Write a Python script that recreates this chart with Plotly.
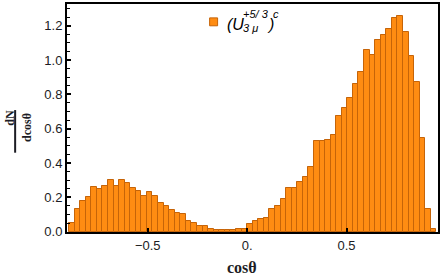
import numpy as np
import plotly.graph_objects as go

# histogram bins (cos theta), width 0.028 starting at -0.896
BIN_START = -0.896
BIN_WIDTH = 0.028
COUNTS = [
    0.053, 0.134, 0.178, 0.200, 0.258, 0.248, 0.267, 0.300, 0.267, 0.303,
    0.284, 0.256, 0.236, 0.207, 0.231, 0.209, 0.168, 0.150, 0.126, 0.110,
    0.105, 0.064, 0.051, 0.034, 0.034, 0.018, 0.007, 0.009, 0.008, 0.012,
    0.017, 0.017, 0.044, 0.063, 0.073, 0.077, 0.134, 0.152, 0.190, 0.254,
    0.255, 0.288, 0.320, 0.378, 0.530, 0.530, 0.536, 0.561, 0.674, 0.720,
    0.780, 0.863, 0.930, 1.056, 1.028, 1.116, 1.147, 1.183, 1.245, 1.256,
    1.166, 1.026, 0.872, 0.547, 0.133, 0.015,
]
X_TICKS = [-0.5, 0.0, 0.5]
X_TICKTEXT = ["\u22120.5", "0.", "0.5"]
Y_TICKS = [0.0, 0.2, 0.4, 0.6, 0.8, 1.0, 1.2]
Y_TICKTEXT = ["0.0", "0.2", "0.4", "0.6", "0.8", "1.0", "1.2"]

ORANGE = "#ff8c12"
ORANGE_EDGE = "#c66408"
SHADOW = "#c4c4c4"
TEXT = "#1c1c24"
SANS = "Liberation Sans, Arial, sans-serif"
SERIF = "Liberation Serif, Times New Roman, serif"

W, H = 442, 277
L, R, T, B = 67, 439, 2, 232

centers = BIN_START + BIN_WIDTH * (np.arange(len(COUNTS)) + 0.5)
counts = np.array(COUNTS)


def px(x):
    return (x - L) / (R - L)


def py(y):
    return (B - y) / (B - T)


fig = go.Figure()
# light grey offset edge behind the bars (Mathematica-style bar edge)
fig.add_trace(go.Bar(
    x=centers, y=counts + 0.006, width=BIN_WIDTH, offset=-BIN_WIDTH / 2 - 0.005,
    marker=dict(color=SHADOW, line=dict(width=0)), hoverinfo="skip",
))
fig.add_trace(go.Bar(
    x=centers, y=counts, width=BIN_WIDTH,
    marker=dict(color=ORANGE, line=dict(color=ORANGE_EDGE, width=1)),
    hovertemplate="cos\u03b8=%{x:.3f}<br>%{y:.3f}<extra></extra>",
))

annots = [
    dict(x=px(242), y=py(268), text="<b>cos\u03b8</b>", font=dict(family=SERIF, size=16, color=TEXT)),
    dict(x=px(9.5), y=py(117), text="<b>dN</b>", textangle=-90, font=dict(family=SERIF, size=12, color=TEXT)),
    dict(x=px(27), y=py(127), text="<b>dcos\u03b8</b>", textangle=-90, font=dict(family=SERIF, size=12, color=TEXT)),
    # legend label (U_{3 mu}^{+5/3})^c
    dict(x=px(225), y=py(23), text="<i>(U</i>", xanchor="left", font=dict(family=SANS, size=16, color="#000")),
    dict(x=px(241), y=py(12), text="<i>+5/ 3</i>", xanchor="left", font=dict(family=SANS, size=11, color="#000")),
    dict(x=px(241), y=py(26.5), text="<i>3 \u03bc</i>", xanchor="left", font=dict(family=SANS, size=11, color="#000")),
    dict(x=px(266), y=py(23), text="<i>)</i>", xanchor="left", font=dict(family=SANS, size=16, color="#000")),
    dict(x=px(272), y=py(12), text="<i>c</i>", xanchor="left", font=dict(family=SANS, size=11, color="#000")),
]
for a in annots:
    a.update(xref="paper", yref="paper", showarrow=False)
    a.setdefault("xanchor", "center")
    a.setdefault("yanchor", "middle")

fig.update_layout(
    width=W, height=H,
    margin=dict(l=L, r=W - R, t=T, b=H - B),
    paper_bgcolor="white", plot_bgcolor="white",
    showlegend=False, barmode="overlay", bargap=0,
    font=dict(family=SANS, size=13, color=TEXT),
    xaxis=dict(
        range=[-0.906, 0.96], showgrid=False, zeroline=False,
        tickvals=X_TICKS, ticktext=X_TICKTEXT, ticks="inside", ticklen=4, tickwidth=1.5,
        tickcolor="black", showline=True, linecolor="black", linewidth=2, mirror=True,
    ),
    yaxis=dict(
        range=[-0.002, 1.327], showgrid=False, zeroline=False,
        tickvals=Y_TICKS, ticktext=Y_TICKTEXT, ticks="inside", ticklen=4, tickwidth=1.5,
        tickcolor="black", showline=True, linecolor="black", linewidth=2, mirror=True,
        minor=dict(dtick=0.05, ticks="inside", ticklen=2.5, tickcolor="black", tickwidth=1),
    ),
    annotations=annots,
    shapes=[
        dict(type="line", xref="paper", yref="paper", x0=px(15), x1=px(15), y0=py(109), y1=py(152),
             line=dict(color=TEXT, width=2)),
        dict(type="rect", xref="paper", yref="paper", x0=px(210), x1=px(218), y0=py(24), y1=py(16),
             fillcolor=ORANGE, line=dict(color=ORANGE_EDGE, width=1)),
    ],
)

# drop the browser's default body margin so the figure sits at the page corner
fig.write_html("out.html", config={"displayModeBar": False},
               post_script="document.body.style.margin='0';")
